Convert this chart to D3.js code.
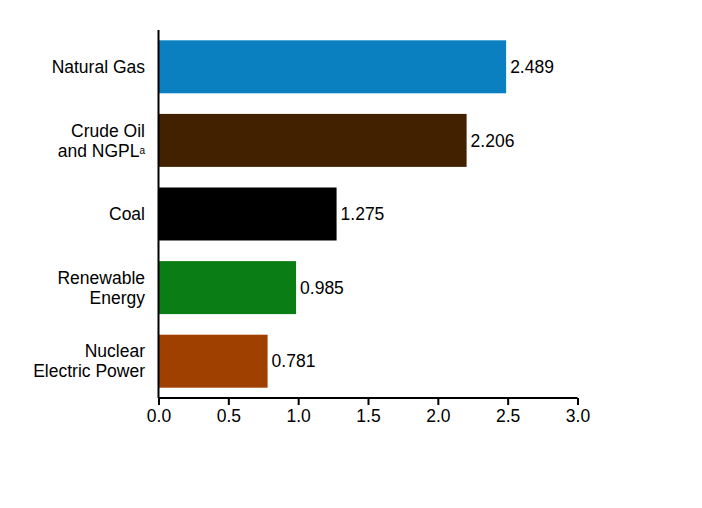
<!DOCTYPE html>
<html><head><meta charset="utf-8">
<script src="https://cdn.jsdelivr.net/npm/d3@7"></script>
<style>body{margin:0;background:#fff}svg{display:block}text{font-family:"Liberation Sans",Arial,sans-serif}</style>
</head><body><svg id="c" width="702" height="508"></svg>
<script>
const categories = [["Natural Gas"], ["Crude Oil", "and NGPL"], ["Coal"], ["Renewable", "Energy"], ["Nuclear", "Electric Power"]];
const keys = ["gas", "oil", "coal", "ren", "nuc"];
const values = [2.489, 2.206, 1.275, 0.985, 0.781];
const valueLabels = ["2.489", "2.206", "1.275", "0.985", "0.781"];
const colors = ["#0a80c0", "#412100", "#000000", "#0a7d14", "#a04000"];
const ticks = [0, 0.5, 1, 1.5, 2, 2.5, 3];

const FS = 17.5;
const svg = d3.select("#c");
const x = d3.scaleLinear().domain([0, 3]).range([158.5, 577.5]);
const y = d3.scaleBand().domain(keys).range([30, 398]).paddingInner(0.28).paddingOuter(0.14);

svg.selectAll("rect.bar").data(values).enter().append("rect")
  .attr("x", x(0)).attr("y", (d, i) => y(keys[i]))
  .attr("width", d => x(d) - x(0)).attr("height", y.bandwidth())
  .attr("fill", (d, i) => colors[i]);

svg.selectAll("text.val").data(values).enter().append("text")
  .attr("x", d => x(d) + 4).attr("y", (d, i) => y(keys[i]) + y.bandwidth() / 2)
  .attr("dy", "0.35em").attr("font-size", FS).attr("fill", "#000")
  .text((d, i) => valueLabels[i]);

// category labels
categories.forEach((lines, i) => {
  const cy = y(keys[i]) + y.bandwidth() / 2;
  const lh = 20;
  const t = svg.append("text").attr("text-anchor", "end").attr("font-size", FS).attr("fill", "#000");
  lines.forEach((ln, j) => {
    t.append("tspan").attr("x", 145).attr("y", cy + (j - (lines.length - 1) / 2) * lh).attr("dy", "0.35em").text(ln);
    if (i === 1 && j === 1) {
      t.append("tspan").attr("font-size", 10).attr("dy", "-0.3em").text("a");
    }
  });
});

// axes
const xAxis = d3.axisBottom(x).tickValues(ticks).tickFormat(d3.format(".1f")).tickSize(7).tickSizeOuter(0);
const gx = svg.append("g").attr("transform", "translate(0,398)").call(xAxis);
gx.select(".domain").attr("stroke", "#000").attr("stroke-width", 2).attr("d", `M${x(0)},0H${x(3)}`);
gx.selectAll(".tick line").attr("stroke", "#000").attr("stroke-width", 2);
gx.selectAll(".tick text").attr("font-size", FS).attr("fill", "#000").attr("dy", "0.71em").attr("y", 12)
  .style("font-family", "'Liberation Sans',Arial,sans-serif");

svg.append("line").attr("x1", x(0)).attr("x2", x(0)).attr("y1", 30).attr("y2", 398)
  .attr("stroke", "#000").attr("stroke-width", 2);
</script></body></html>
